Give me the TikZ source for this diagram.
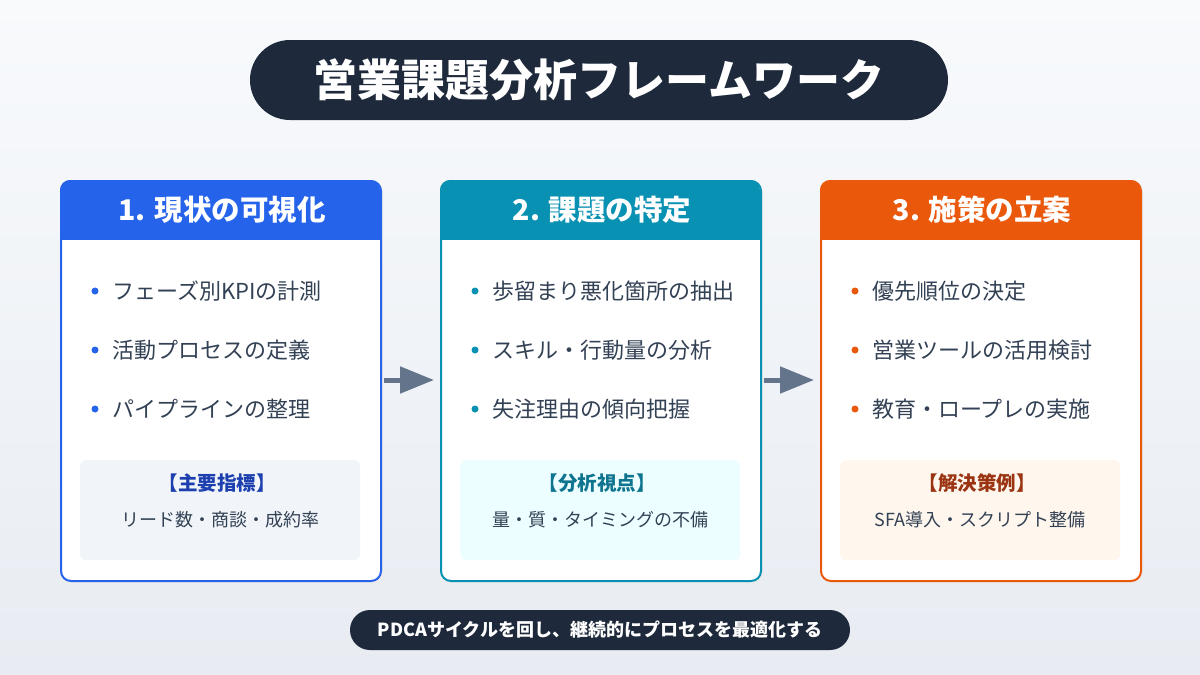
\documentclass[tikz,border=0pt]{standalone}
\usepackage{fontspec}
\setmainfont{Noto Sans CJK JP}
\usetikzlibrary{arrows.meta}
\definecolor{dark}{HTML}{1E293B}
\definecolor{txt}{HTML}{334155}
\definecolor{bgtop}{HTML}{F8FAFC}\definecolor{bgbot}{HTML}{E8ECF2}
\definecolor{cA}{HTML}{2563EB}\definecolor{cB}{HTML}{0891B2}\definecolor{cC}{HTML}{EA580C}
\definecolor{fA}{HTML}{F1F5F9}\definecolor{fB}{HTML}{ECFEFF}\definecolor{fC}{HTML}{FFF7ED}
\definecolor{tA}{HTML}{1E40AF}\definecolor{tB}{HTML}{0E7490}\definecolor{tC}{HTML}{9A3412}
\definecolor{arr}{HTML}{64748B}
\tikzset{x=1pt,y=-1pt,
 pill/.style={fill=dark,rounded corners=#1,inner sep=0},
 item/.style={anchor=west,text=txt,font=\fontsize{22}{26}\selectfont,inner sep=0},
 bt/.style={anchor=center,font=\fontsize{19.5}{23}\selectfont\bfseries,inner sep=0},
 bs/.style={anchor=center,text=txt,font=\fontsize{18}{21}\selectfont,inner sep=0},
 flow/.style={draw=arr,line width=5pt,-{Triangle[length=34pt,width=26pt]},shorten <=2pt,shorten >=6pt}}
\newcommand\card[8]{%
 \fill[black!8,rounded corners=10] (#1+1,183) rectangle (#1+323,583);
 \node[draw=#2,line width=2pt,fill=white,rounded corners=10,minimum width=320,minimum height=400,anchor=north west,inner sep=0] (#8) at (#1,180) {};
 \begin{scope}
 \clip[rounded corners=10] (#1,180) rectangle (#1+320,580);
 \fill[#2] (#1,180) rectangle (#1+320,240);
 \end{scope}
 \node[text=white,font=\fontsize{28.5}{32}\selectfont\bfseries] (#8h) at (#1+162,210) {#3};
 \foreach \t [count=\i] in {#4}{
  \fill[#2] (#1+35,291+59*\i-59) circle (3.5);
  \node[item] (#8i\i) at (#1+52,291+59*\i-59) {\t};}
 \node[fill=#5,rounded corners=6,minimum width=280,minimum height=100,anchor=north west,inner sep=0] (#8b) at (#1+20,460) {};
 \node[bt,text=#6] (#8bt) at (#1+157,483) {#7};
}
\begin{document}
\begin{tikzpicture}
\shade[top color=bgtop,bottom color=bgbot] (0,0) rectangle (1200,675);
\useasboundingbox (0,0) rectangle (1200,675);
\node[pill=40,minimum width=698,minimum height=80,text=white,font=\fontsize{44}{48}\selectfont\bfseries] (title) at (599,80) {営業課題分析フレームワーク};
\card{60}{cA}{1. 現状の可視化}{フェーズ別KPIの計測,活動プロセスの定義,パイプラインの整理}{fA}{tA}{【主要指標】}{c1}
\node[bs] (c1s) at (220,520) {リード数・商談・成約率};
\card{440}{cB}{2. 課題の特定}{歩留まり悪化箇所の抽出,スキル・行動量の分析,失注理由の傾向把握}{fB}{tB}{【分析視点】}{c2}
\node[bs] (c2s) at (600,520) {量・質・タイミングの不備};
\card{820}{cC}{3. 施策の立案}{優先順位の決定,営業ツールの活用検討,教育・ロープレの実施}{fC}{tC}{【解決策例】}{c3}
\node[bs] (c3s) at (980,520) {SFA導入・スクリプト整備};
\draw[flow] (c1.east|-0,380) -- (c2.west|-0,380);
\draw[flow] (c2.east|-0,380) -- (c3.west|-0,380);
\node[pill=20,minimum width=500,minimum height=40,text=white,font=\fontsize{18}{21}\selectfont\bfseries] (foot) at (600,630) {PDCAサイクルを回し、継続的にプロセスを最適化する};
\end{tikzpicture}
\end{document}
